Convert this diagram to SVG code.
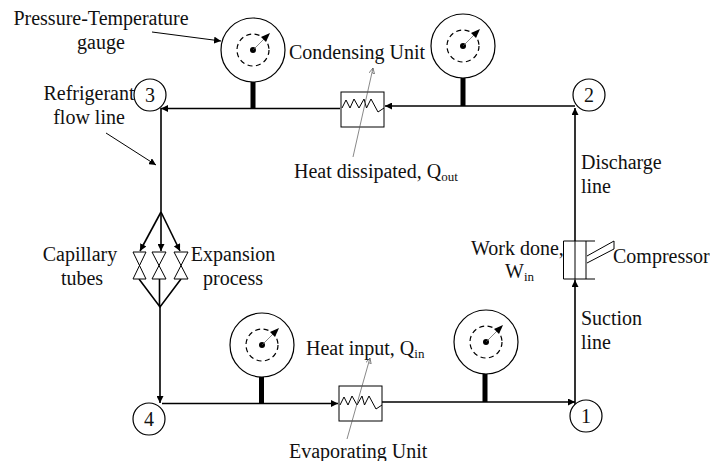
<svg xmlns="http://www.w3.org/2000/svg" width="710" height="461" viewBox="0 0 710 461">
<style>
text{font-family:"Liberation Serif","Times New Roman",serif;font-size:20px;fill:#111}
.m{text-anchor:middle}
.sub{font-size:13px}
.n{font-size:20px;text-anchor:middle}
.o{fill:#fff;stroke:#000;stroke-width:1.2}
.d{fill:none;stroke:#000;stroke-width:1.2;stroke-dasharray:5 3.5}
.s{stroke:#000;stroke-width:5;fill:none}
.l{stroke:#000;stroke-width:1.6;fill:none}
.t{stroke:#000;stroke-width:1;fill:none}
.g{stroke:#555;stroke-width:.7;fill:none}
.v{fill:#fff;stroke:#000;stroke-width:1}
</style>
<defs>
<marker id="a" markerUnits="userSpaceOnUse" viewBox="0 0 6 6" refX="6" refY="3" markerWidth="7" markerHeight="7" orient="auto"><path d="M0 0L6 3L0 6Z" fill="#000"/></marker>
<marker id="b" markerUnits="userSpaceOnUse" viewBox="0 0 6 6" refX="6" refY="3" markerWidth="6" markerHeight="6" orient="auto"><path d="M0 0L6 3L0 6L1.500 3" fill="none" stroke="#555" stroke-width=".7"/></marker>
<g id="gauge"><circle class="o" r="32"/><circle class="d" r="16"/><circle r="3" fill="#000"/><path class="g" d="M0 0L12 -12"/><path d="M17 -17L8 -13L13 -8Z" fill="#000"/></g>
<path id="coil" class="t" d="M0 17L4 9L8 17L12 8L17 17L22 8L24.500 17L29 8L36 21L42 17"/>
</defs>
<g id="connectors">
<path class="l" d="M340 108.500H161" marker-end="url(#a)"/>
<path class="l" d="M161 108V212"/>
<path class="l" d="M575 106H385" marker-end="url(#a)"/>
<path class="l" d="M575 414V280" marker-end="url(#a)"/>
<path class="l" d="M575 241V108" marker-end="url(#a)"/>
<path class="t" d="M575 241V280"/>
<path class="l" d="M161 212L140 251" marker-end="url(#a)"/>
<path class="l" d="M161 212V251" marker-end="url(#a)"/>
<path class="l" d="M161 212L180 251" marker-end="url(#a)"/>
<path class="l" d="M139 279L160 307L181 279M159.500 279V307"/>
<path class="l" d="M160 307V403" marker-end="url(#a)"/>
<path class="l" d="M162 403.500H338" marker-end="url(#a)"/>
<path class="l" d="M382 402H575" marker-end="url(#a)"/>
<path class="s" d="M253 82V108M463 78V106M261.500 377V403M485 373V402"/>
<path class="t" d="M152 32L221 41" marker-end="url(#a)"/>
<path class="t" d="M106 133L156 165" marker-end="url(#a)"/>
</g>
<g id="gauge-1"><use href="#gauge" x="253" y="50"/></g>
<g id="gauge-2"><use href="#gauge" x="463" y="46"/></g>
<g id="gauge-3"><use href="#gauge" x="262" y="345"/></g>
<g id="gauge-4"><use href="#gauge" x="486" y="342"/></g>
<g id="state-3"><circle class="o" cx="150" cy="95" r="16"/><text class="n" x="150" y="102">3</text></g>
<g id="state-2"><circle class="o" cx="589" cy="95" r="16"/><text class="n" x="589" y="102">2</text></g>
<g id="state-4"><circle class="o" cx="149" cy="419" r="16"/><text class="n" x="149" y="426">4</text></g>
<g id="state-1"><circle class="o" cx="586" cy="416" r="16"/><text class="n" x="586" y="423">1</text></g>
<g id="condenser"><rect class="v" x="341" y="92" width="43" height="35"/><use href="#coil" x="342" y="91"/><path class="g" d="M353 157L373 68" marker-end="url(#b)"/></g>
<g id="evaporator"><rect class="v" x="339" y="386" width="43" height="35"/><use href="#coil" x="340" y="388"/><path class="g" d="M347 439L370 358" marker-end="url(#b)"/></g>
<g id="valves">
<path class="v" d="M133 252H146L133 279H146Z"/>
<path class="v" d="M152 252H166L152 279H166Z"/>
<path class="v" d="M174 252H188L174 279H188Z"/>
</g>
<g id="compressor">
<path class="t" d="M595 241H563.500V279H595M586 241V279"/>
<path class="t" d="M587 256L614 241V249L587 263"/>
</g>
<g id="labels">
<text class="m" x="101" y="25">Pressure-Temperature</text>
<text class="m" x="101" y="49">gauge</text>
<text class="m" x="89" y="100">Refrigerant</text>
<text class="m" x="89" y="124">flow line</text>
<text x="289" y="59">Condensing Unit</text>
<text x="294" y="178">Heat dissipated, Q<tspan class="sub" dy="3">out</tspan></text>
<text x="581" y="169">Discharge</text>
<text x="581" y="193">line</text>
<text class="m" x="80" y="261">Capillary</text>
<text class="m" x="82" y="285">tubes</text>
<text class="m" x="233" y="261">Expansion</text>
<text class="m" x="233" y="285">process</text>
<text x="471" y="255">Work done,</text>
<text x="505" y="278">W<tspan class="sub" dy="3">in</tspan></text>
<text x="613" y="263">Compressor</text>
<text x="581" y="325">Suction</text>
<text x="581" y="349">line</text>
<text x="306" y="355">Heat input, Q<tspan class="sub" dy="3">in</tspan></text>
<text x="289" y="458">Evaporating Unit</text>
</g>
</svg>
